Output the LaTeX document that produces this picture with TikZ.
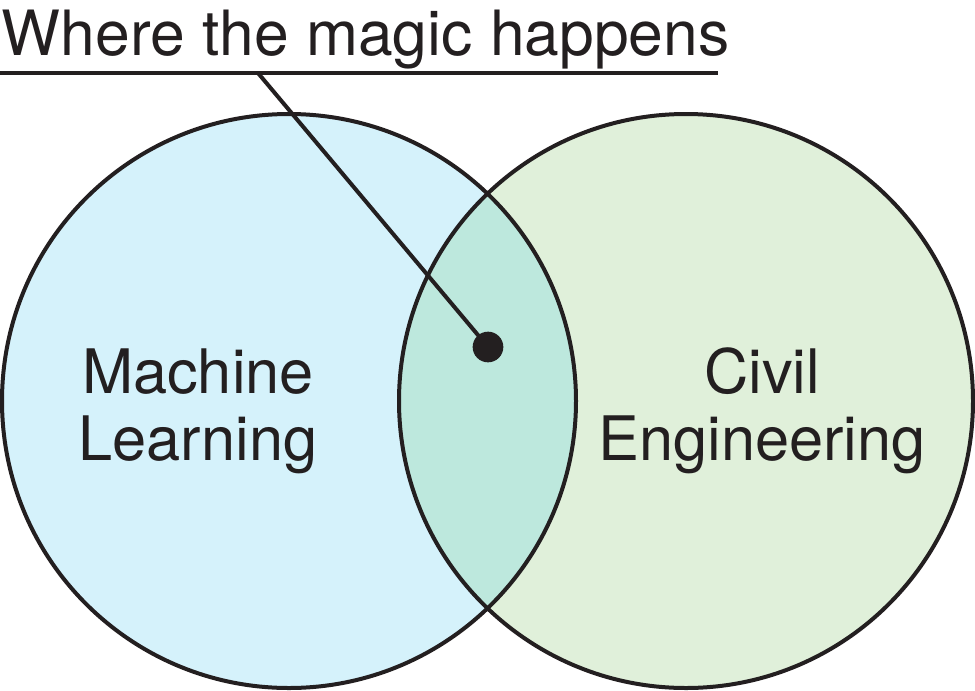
\documentclass[tikz,border=0pt]{standalone}
\usepackage{fontspec}
\setmainfont{TeX Gyre Heros}
\definecolor{mlblue}{HTML}{D5F2FB}
\definecolor{cegreen}{HTML}{E0F0DA}
\definecolor{overlap}{HTML}{BDE8DD}
\definecolor{ink}{HTML}{231F20}
\begin{document}
\begin{tikzpicture}[x=0.75pt,y=-0.75pt,line width=3pt,draw=ink,
  label text/.style={inner sep=0pt,align=center,text=ink,font=\fontsize{46}{50}\selectfont}]
  \useasboundingbox (0,0) rectangle (975,690);
  % the two sets
  \coordinate (ml) at (289,401);
  \coordinate (ce) at (686,401);
  \fill[mlblue] (ml) circle (287);
  \fill[cegreen] (ce) circle (287);
  \begin{scope}
    \clip (ml) circle (287);
    \fill[overlap] (ce) circle (287);
  \end{scope}
  \draw (ml) circle (287);
  \draw (ce) circle (287);
  \node[label text] (mltext) at (198,411) {Machine\\Learning};
  \node[label text] (cetext) at (762,411) {Civil\\Engineering};
  % caption and pointer
  \node[inner sep=0pt,anchor=base west,text=ink,font=\fontsize{46.8}{50}\selectfont] (title) at (0,55) {Where the magic happens};
  \draw (0,73) -- (718,73);
  \coordinate (start) at (258,73);
  \node[circle,fill=ink,inner sep=0pt,minimum size=23pt] (dot) at (488,347) {};
  \draw (start) -- (dot.center);
\end{tikzpicture}
\end{document}
